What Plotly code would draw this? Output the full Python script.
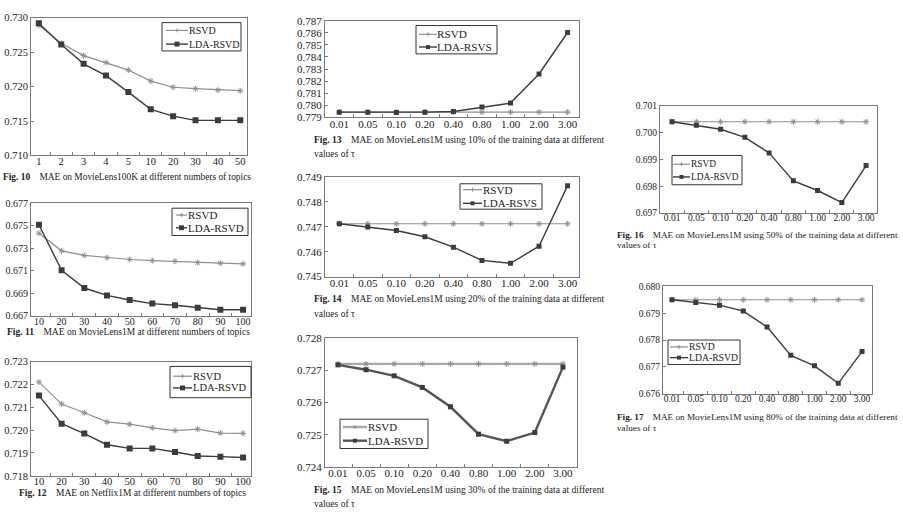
import plotly.graph_objects as go

W, H = 903, 517

# ---------------- data ----------------
topics_a = ["1", "2", "3", "4", "5", "10", "20", "30", "40", "50"]
fig10_rsvd = [0.7289, 0.7263, 0.7245, 0.7235, 0.7224, 0.7208, 0.7199, 0.7197, 0.7195, 0.7194]
fig10_lda = [0.7292, 0.7261, 0.7233, 0.7216, 0.7192, 0.7167, 0.7157, 0.7151, 0.7151, 0.7151]

topics_b = ["10", "20", "30", "40", "50", "60", "70", "80", "90", "100"]
fig11_rsvd = [0.67433, 0.67277, 0.67236, 0.67216, 0.67200, 0.67190, 0.67184, 0.67172, 0.67167, 0.67161]
fig11_lda = [0.67509, 0.67103, 0.66946, 0.66880, 0.66839, 0.66807, 0.66793, 0.66770, 0.66752, 0.66752]

fig12_rsvd = [0.72210, 0.72114, 0.72076, 0.72036, 0.72026, 0.72010, 0.71998, 0.72004, 0.71987, 0.71986]
fig12_lda = [0.72151, 0.72028, 0.71985, 0.71936, 0.71920, 0.71920, 0.71904, 0.71887, 0.71884, 0.71880]

tau = ["0.01", "0.05", "0.10", "0.20", "0.40", "0.80", "1.00", "2.00", "3.00"]
fig13_rsvd = [0.77943, 0.77943, 0.77943, 0.77943, 0.77943, 0.77943, 0.77943, 0.77943, 0.77943]
fig13_lda = [0.77943, 0.77943, 0.77940, 0.77943, 0.77948, 0.77986, 0.78018, 0.78259, 0.78602]

fig14_rsvd = [0.74712, 0.74712, 0.74712, 0.74712, 0.74712, 0.74712, 0.74712, 0.74712, 0.74712]
fig14_lda = [0.74712, 0.74699, 0.74685, 0.74660, 0.74618, 0.74565, 0.74553, 0.74622, 0.74865]

fig15_rsvd = [0.72720, 0.72720, 0.72720, 0.72720, 0.72720, 0.72720, 0.72720, 0.72720, 0.72720]
fig15_lda = [0.72717, 0.72702, 0.72683, 0.72647, 0.72587, 0.72502, 0.72480, 0.72507, 0.72710]

fig16_rsvd = [0.70040, 0.70040, 0.70040, 0.70040, 0.70040, 0.70040, 0.70040, 0.70040, 0.70040]
fig16_lda = [0.70040, 0.70027, 0.70012, 0.69982, 0.69924, 0.69820, 0.69784, 0.69739, 0.69877]

fig17_rsvd = [0.67950, 0.67950, 0.67950, 0.67950, 0.67950, 0.67950, 0.67950, 0.67950, 0.67950]
fig17_lda = [0.67950, 0.67940, 0.67930, 0.67908, 0.67849, 0.67743, 0.67704, 0.67639, 0.67757]

yticks10 = [0.710, 0.715, 0.720, 0.725, 0.730]
yticks11 = [0.667, 0.669, 0.671, 0.673, 0.675, 0.677]
yticks12 = [0.718, 0.719, 0.720, 0.721, 0.722, 0.723]
yticks13 = [0.779, 0.780, 0.781, 0.782, 0.783, 0.784, 0.785, 0.786, 0.787]
yticks14 = [0.745, 0.746, 0.747, 0.748, 0.749]
yticks15 = [0.724, 0.725, 0.726, 0.727, 0.728]
yticks16 = [0.697, 0.698, 0.699, 0.700, 0.701]
yticks17 = [0.676, 0.677, 0.678, 0.679, 0.680]

captions = [
    ("Fig. 10", "MAE on MovieLens100K at different numbers of topics", ""),
    ("Fig. 11", "MAE on MovieLens1M at different numbers of topics", ""),
    ("Fig. 12", "MAE on Netflix1M at different numbers of topics", ""),
    ("Fig. 13", "MAE on MovieLens1M using 10% of the training data at different", "values of \u03c4"),
    ("Fig. 14", "MAE on MovieLens1M using 20% of the training data at different", "values of \u03c4"),
    ("Fig. 15", "MAE on MovieLens1M using 30% of the training data at different", "values of \u03c4"),
    ("Fig. 16", "MAE on MovieLens1M using 50% of the training data at different", "values of \u03c4"),
    ("Fig. 17", "MAE on MovieLens1M using 80% of the training data at different", "values of \u03c4"),
]

# ---------------- layout spec (pixel positions) ----------------
FONT = "Liberation Serif"
# leg = (box x0, x1, y0, y1, key x0, key x1, text x, row1 y, row2 y, font size)
panels = [
    dict(x=topics_a, r=fig10_rsvd, l=fig10_lda, lname="LDA-RSVD", yt=yticks10,
         box=(31, 247, 12, 153), xr=(-0.35, 9.3), fs=10.5,
         leg=(162, 241, 17, 46, 166, 188, 189, 25, 39, 10),
         cap=(2, 175, 9.4, 0), wide=False),
    dict(x=topics_b, r=fig11_rsvd, l=fig11_lda, lname="LDA-RSVD", yt=yticks11,
         box=(31, 251, 202, 317), xr=(-0.35, 9.35), fs=10,
         leg=(172, 248, 207, 235, 176, 187, 188, 214, 227, 11),
         cap=(6, 334, 9.5, 0), wide=False),
    dict(x=topics_b, r=fig12_rsvd, l=fig12_lda, lname="LDA-RSVD", yt=yticks12,
         box=(31, 251, 364, 481), xr=(-0.35, 9.35), fs=10.5,
         leg=(170, 251, 369, 401, 173, 192, 193, 379, 391, 10.5),
         cap=(18, 499, 9.5, 0), wide=False),
    dict(x=tau, r=fig13_rsvd, l=fig13_lda, lname="LDA-RSVS", yt=yticks13,
         box=(325, 579, 15, 114), xr=(-0.5, 8.4), fs=11,
         leg=(416, 497, 20, 49, 419, 437, 437, 29, 42, 11.2),
         cap=(313, 137, 9.5, 15), wide=True),
    dict(x=tau, r=fig14_rsvd, l=fig14_lda, lname="LDA-RSVS", yt=yticks14,
         box=(325, 579, 175, 277), xr=(-0.5, 8.4), fs=11,
         leg=(460, 542, 182, 208, 463, 482, 483, 188, 202, 11),
         cap=(313, 300, 9.5, 15), wide=True),
    dict(x=tau, r=fig15_rsvd, l=fig15_lda, lname="LDA-RSVD", yt=yticks15,
         box=(325, 577, 340, 472), xr=(-0.46, 8.5), fs=11,
         leg=(340, 428, 423, 453, 343, 367, 368, 431, 445, 10.9),
         cap=(313, 495, 9.5, 15), wide=True, thick=True),
    dict(x=tau, r=fig16_rsvd, l=fig16_lda, lname="LDA-RSVD", yt=yticks16,
         box=(660, 877, 102, 212), xr=(-0.5, 8.45), fs=9.5,
         leg=(672, 742, 153, 183, 673, 690, 691, 162, 175, 9.4),
         cap=(616, 234, 9.2, 11), wide=True),
    dict(x=tau, r=fig17_rsvd, l=fig17_lda, lname="LDA-RSVD", yt=yticks17,
         box=(663, 872, 287, 397), xr=(-0.38, 8.42), fs=9.5,
         leg=(668, 740, 342, 367, 670, 688, 689, 349, 360, 9.7),
         cap=(616, 421, 9.2, 11), wide=True),
]

RS_COLOR = "#8f8f8f"
LDA_COLOR = "#3c3c3c"
TXT = "#222222"


def px(xp):
    return xp / W


def py(yp):
    return 1 - yp / H


fig = go.Figure()
layout = {}
annotations = []
shapes = []

for i, p in enumerate(panels):
    n = "" if i == 0 else str(i + 1)
    xref, yref = "x" + n, "y" + n
    thick = p.get("thick", False)
    rs_line = dict(color="#a8a8a8" if thick else RS_COLOR, width=2.4 if thick else 1.2)
    lda_line = dict(color="#555555" if thick else LDA_COLOR, width=2.4 if thick else 1.4)
    sq = 6 if not p["wide"] else 5
    fig.add_trace(go.Scatter(
        x=p["x"], y=p["r"], name="RSVD", mode="lines+markers", showlegend=False,
        xaxis=xref, yaxis=yref, line=rs_line,
        marker=dict(symbol="asterisk", size=5, color=RS_COLOR,
                    line=dict(color=RS_COLOR, width=1)),
    ))
    fig.add_trace(go.Scatter(
        x=p["x"], y=p["l"], name=p["lname"], mode="lines+markers", showlegend=False,
        xaxis=xref, yaxis=yref, line=lda_line,
        marker=dict(symbol="square", size=sq, color=LDA_COLOR),
    ))
    x0, x1, y0, y1 = p["box"]
    axis_common = dict(showline=True, mirror=True, linecolor="#7a7a7a", linewidth=1,
                       showgrid=False, zeroline=False, ticks="inside", ticklen=3,
                       tickcolor="#7a7a7a",
                       tickfont=dict(family=FONT, size=p["fs"], color=TXT))
    layout["xaxis" + n] = dict(domain=[px(x0), px(x1)], anchor=yref, type="category",
                               range=list(p["xr"]), tickson="boundaries", tickangle=0,
                               ticklabelstandoff=-4, **axis_common)
    layout["yaxis" + n] = dict(domain=[py(y1), py(y0)], anchor=xref,
                               range=[p["yt"][0], p["yt"][-1]], tickvals=p["yt"],
                               tickformat=".3f", **axis_common)

    # ---- legend box (drawn by hand so it can be compact) ----
    lx0, lx1, ly0, ly1, kx0, kx1, tx, r1, r2, lfs = p["leg"]
    shapes.append(dict(type="rect", xref="paper", yref="paper",
                       x0=px(lx0), x1=px(lx1), y0=py(ly1), y1=py(ly0),
                       line=dict(color="#333333", width=1), fillcolor="white", layer="above"))
    mx = (kx0 + kx1) / 2
    for k, (name, ln, ry) in enumerate([("RSVD", rs_line, r1), (p["lname"], lda_line, r2)]):
        shapes.append(dict(type="line", xref="paper", yref="paper",
                           x0=px(kx0), x1=px(kx1), y0=py(ry), y1=py(ry),
                           line=dict(color=ln["color"], width=ln["width"]), layer="above"))
        if k == 0:
            for dx, dy in [(-2, 0), (0, -2)]:
                shapes.append(dict(type="line", xref="paper", yref="paper",
                                   x0=px(mx + dx), x1=px(mx - dx), y0=py(ry + dy), y1=py(ry - dy),
                                   line=dict(color=RS_COLOR, width=1), layer="above"))
        else:
            h = sq / 2 - 0.5
            shapes.append(dict(type="rect", xref="paper", yref="paper",
                               x0=px(mx - h), x1=px(mx + h), y0=py(ry + h), y1=py(ry - h),
                               line=dict(width=0), fillcolor=LDA_COLOR, layer="above"))
        annotations.append(dict(x=px(tx - 1), y=py(ry), xref="paper", yref="paper",
                                xanchor="left", yanchor="middle", showarrow=False, text=name,
                                borderpad=0,
                                font=dict(family=FONT, size=lfs, color=TXT)))

    # ---- caption ----
    fig_lab, line1, line2 = captions[i]
    cx, cy, cfs, gap = p["cap"]
    annotations.append(dict(
        x=px(cx), y=py(cy), xref="paper", yref="paper", xanchor="left",
        yanchor="middle", showarrow=False, borderpad=0,
        text="<b>" + fig_lab + "</b>\u2003" + line1,
        font=dict(family=FONT, size=cfs, color=TXT)))
    if line2:
        annotations.append(dict(
            x=px(cx), y=py(cy + gap), xref="paper", yref="paper",
            xanchor="left", yanchor="middle", showarrow=False, text=line2, borderpad=0,
            font=dict(family=FONT, size=cfs, color=TXT)))

fig.update_layout(
    width=W, height=H, margin=dict(l=0, r=0, t=0, b=0),
    paper_bgcolor="white", plot_bgcolor="white", showlegend=False,
    font=dict(family=FONT, color=TXT),
    annotations=annotations, shapes=shapes, **layout,
)

fig.write_html("out.html", config={"displayModeBar": False},
               post_script="document.body.style.margin='0px';document.body.style.padding='0px';")
